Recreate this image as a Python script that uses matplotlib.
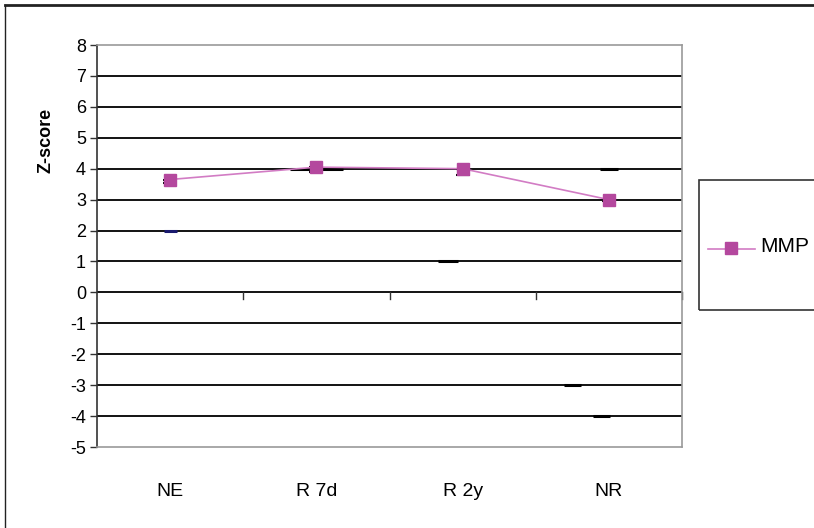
import matplotlib
matplotlib.use('Agg')
import matplotlib.pyplot as plt
from matplotlib.patches import Rectangle
from matplotlib.lines import Line2D

plt.rcParams['font.family'] = ['Liberation Sans Narrow', 'Liberation Sans', 'DejaVu Sans']

categories = ['NE', 'R 7d', 'R 2y', 'NR']
mmp = [3.65, 4.05, 4.0, 3.0]
mmp_err_low = [0.12, 0.15, 0.2, 0.05]
mmp_err_high = [0.0, 0.0, 0.0, 0.0]
y_ticks = list(range(-5, 9))

# stray dashes left over in the original chart (category position, value, colour)
dash_x = [0.0, 1.0, 1.9, 3.0, 2.75, 2.95]
dash_y = [2.0, 4.0, 1.0, 4.0, -3.0, -4.0]
dash_w = [0.09, 0.36, 0.13, 0.12, 0.12, 0.12]
dash_c = ['#1a1a6e', 'black', 'black', 'black', 'black', 'black']

fig = plt.figure(figsize=(8.14, 5.28), dpi=100)
W, H = 814, 528
ax = fig.add_axes([97 / W, 1 - 447 / H, (682 - 97) / W, (447 - 45) / H])

x = list(range(len(categories)))
ax.set_xlim(-0.5, 3.5)
ax.set_ylim(-5, 8)

for v in y_ticks:
    if -5 < v < 8:
        ax.axhline(v, color='black', lw=1.3, zorder=1)

for xi, yi, wi, ci in zip(dash_x, dash_y, dash_w, dash_c):
    ax.hlines(yi, xi - wi / 2, xi + wi / 2, color=ci, lw=2.2, zorder=2)

ax.errorbar(x, mmp, yerr=[mmp_err_low, mmp_err_high], fmt='none',
            ecolor='black', capsize=5, elinewidth=1, capthick=1.5, zorder=3)
ax.plot(x, mmp, color='#D27CC4', lw=1.2, marker='s', markersize=8.5,
        markerfacecolor='#B4489E', markeredgecolor='#B4489E', zorder=4)

# category tick marks between groups on the zero line
for b in [0.5, 1.5, 2.5, 3.5]:
    ax.plot([b, b], [0, -0.22], color='#333333', lw=1, clip_on=False, zorder=2)

ax.set_yticks(y_ticks)
ax.set_yticklabels([str(v) for v in y_ticks], fontsize=13)
ax.set_xticks(x)
ax.set_xticklabels(categories, fontsize=14)
ax.tick_params(axis='x', length=0, pad=26)
ax.tick_params(axis='y', length=5, width=1, color='#333333', pad=3)

for s in ['top', 'right', 'bottom']:
    ax.spines[s].set_color('#999999')
    ax.spines[s].set_linewidth(1.2)
ax.spines['left'].set_color('#333333')
ax.spines['left'].set_linewidth(1.2)

fig.text(46 / W, 1 - 140 / H, 'Z-score', rotation=90, fontsize=13,
         fontweight='bold', ha='center', va='center')

# outer chart border (top and left visible)
fig.add_artist(Line2D([5 / W, 1], [1 - 5 / H, 1 - 5 / H], color='#222222', lw=2,
                      transform=fig.transFigure))
fig.add_artist(Line2D([5 / W, 5 / W], [0, 1 - 5 / H], color='#222222', lw=1,
                      transform=fig.transFigure))

# legend box, cut off by the right edge
fig.add_artist(Rectangle((699 / W, 1 - 310 / H), 130 / W, 130 / H, fill=False,
                         edgecolor='#333333', lw=1.2, transform=fig.transFigure))
fig.add_artist(Line2D([708 / W, 755 / W], [1 - 249 / H] * 2, color='#D27CC4', lw=1.2,
                      transform=fig.transFigure))
fig.add_artist(Line2D([731 / W], [1 - 248 / H], marker='s', markersize=8.5,
                      markerfacecolor='#B4489E', markeredgecolor='#B4489E',
                      transform=fig.transFigure))
fig.text(760 / W, 1 - 247 / H, 'MMP', fontsize=15, va='center', ha='left')

fig.savefig('out.png', dpi=100)
